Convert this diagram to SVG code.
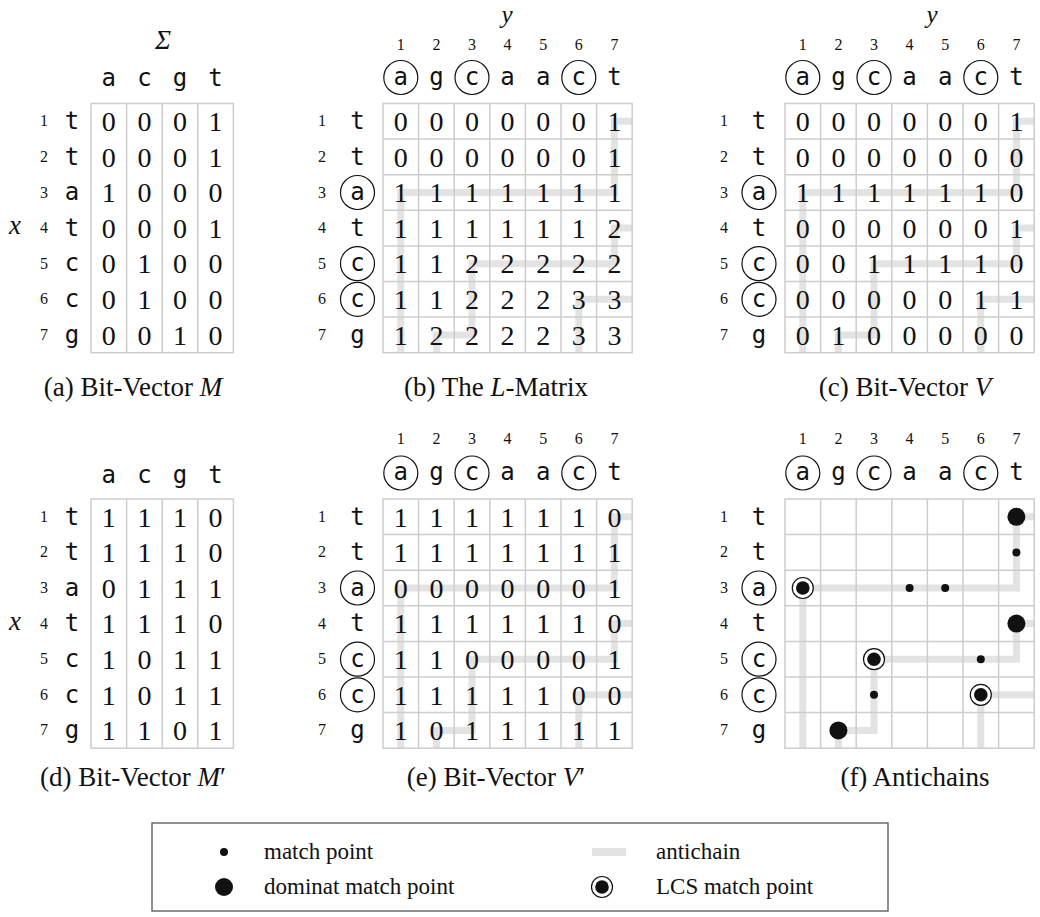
<svg xmlns="http://www.w3.org/2000/svg" width="1040" height="917" viewBox="0 0 1040 917">
<style>
.bg{fill:#ffffff}
.grid{stroke:#cdcdcd;stroke-width:1.5;fill:none}
.ac{stroke:#e3e3e3;stroke-width:7;fill:none;stroke-linejoin:miter;stroke-linecap:butt}
.n{font-family:"Liberation Serif",serif;font-size:28px;text-anchor:middle;fill:#111}
.idx{font-family:"Liberation Serif",serif;font-size:16px;text-anchor:middle;fill:#111}
.tt{font-family:"DejaVu Sans Mono",monospace;font-size:24px;text-anchor:middle;fill:#111}
.cap{font-family:"Liberation Serif",serif;font-size:27px;text-anchor:middle;fill:#111}
.lab{font-family:"Liberation Serif",serif;font-size:27px;font-style:italic;text-anchor:middle;fill:#111}
.ylab{font-family:"Liberation Serif",serif;font-size:25px;font-style:italic;text-anchor:middle;fill:#111}
.lt{font-family:"Liberation Serif",serif;font-size:23px;fill:#111}
.it{font-style:italic}
.ring{fill:none;stroke:#111;stroke-width:1.2}
.lring{fill:#fff;stroke:#111;stroke-width:1.2}
.dot{fill:#111}
</style>
<rect class="bg" x="0" y="0" width="1040" height="917"/>

<!-- connectors: antichains -->
<g id="connectors">
<path class="ac" d="M632.2,121.3 H614.4 V192.5 H400.8 V352.7"/>
<path class="ac" d="M632.2,228.1 H614.4 V263.7 H472 V334.9 H436.4 V352.7"/>
<path class="ac" d="M632.2,299.3 H578.8 V352.7"/>
<path class="ac" d="M1034.2,121.3 H1016.4 V192.5 H802.8 V352.7"/>
<path class="ac" d="M1034.2,228.1 H1016.4 V263.7 H874 V334.9 H838.4 V352.7"/>
<path class="ac" d="M1034.2,299.3 H980.8 V352.7"/>
<path class="ac" d="M632.2,516.8 H614.4 V588 H400.8 V748.2"/>
<path class="ac" d="M632.2,623.6 H614.4 V659.2 H472 V730.4 H436.4 V748.2"/>
<path class="ac" d="M632.2,694.8 H578.8 V748.2"/>
<path class="ac" d="M1034.2,516.8 H1016.4 V588 H802.8 V748.2"/>
<path class="ac" d="M1034.2,623.6 H1016.4 V659.2 H874 V730.4 H838.4 V748.2"/>
<path class="ac" d="M1034.2,694.8 H980.8 V748.2"/>
</g>

<!-- (a) Bit-Vector M -->
<g id="panel-a">
<rect class="grid" x="91" y="103.5" width="142.4" height="249.2"/>
<path class="grid" d="M126.6,103.5V352.7M162.2,103.5V352.7M197.8,103.5V352.7"/>
<text class="lab" x="163" y="49">Σ</text>
<text class="lab" x="15" y="234">x</text>
<g class="tt"><text x="108.8" y="86">a</text><text x="144.4" y="86">c</text><text x="180" y="86">g</text><text x="215.6" y="86">t</text>
<text x="72" y="129">t</text><text x="72" y="164.6">t</text><text x="72" y="200.2">a</text><text x="72" y="235.8">t</text><text x="72" y="271.4">c</text><text x="72" y="307">c</text><text x="72" y="342.6">g</text></g>
<g class="idx"><text x="44" y="126.3">1</text><text x="44" y="161.9">2</text><text x="44" y="197.5">3</text><text x="44" y="233.1">4</text><text x="44" y="268.7">5</text><text x="44" y="304.3">6</text><text x="44" y="339.9">7</text></g>
<g class="n">
<text x="108.8" y="131">0</text><text x="144.4" y="131">0</text><text x="180" y="131">0</text><text x="215.6" y="131">1</text>
<text x="108.8" y="166.6">0</text><text x="144.4" y="166.6">0</text><text x="180" y="166.6">0</text><text x="215.6" y="166.6">1</text>
<text x="108.8" y="202.2">1</text><text x="144.4" y="202.2">0</text><text x="180" y="202.2">0</text><text x="215.6" y="202.2">0</text>
<text x="108.8" y="237.8">0</text><text x="144.4" y="237.8">0</text><text x="180" y="237.8">0</text><text x="215.6" y="237.8">1</text>
<text x="108.8" y="273.4">0</text><text x="144.4" y="273.4">1</text><text x="180" y="273.4">0</text><text x="215.6" y="273.4">0</text>
<text x="108.8" y="309">0</text><text x="144.4" y="309">1</text><text x="180" y="309">0</text><text x="215.6" y="309">0</text>
<text x="108.8" y="344.6">0</text><text x="144.4" y="344.6">0</text><text x="180" y="344.6">1</text><text x="215.6" y="344.6">0</text>
</g>
<text class="cap" x="133" y="396">(a) Bit-Vector <tspan class="it">M</tspan></text>
</g>

<!-- (b) The L-Matrix -->
<g id="panel-b">
<rect class="grid" x="383" y="103.5" width="249.2" height="249.2"/>
<path class="grid" d="M418.6,103.5V352.7M454.2,103.5V352.7M489.8,103.5V352.7M525.4,103.5V352.7M561,103.5V352.7M596.6,103.5V352.7M383,139.1H632.2M383,174.7H632.2M383,210.3H632.2M383,245.9H632.2M383,281.5H632.2M383,317.1H632.2"/>
<text class="ylab" x="507" y="22.5">y</text>
<g class="idx"><text x="400.8" y="50">1</text><text x="436.4" y="50">2</text><text x="472" y="50">3</text><text x="507.6" y="50">4</text><text x="543.2" y="50">5</text><text x="578.8" y="50">6</text><text x="614.4" y="50">7</text>
<text x="322" y="126.3">1</text><text x="322" y="161.9">2</text><text x="322" y="197.5">3</text><text x="322" y="233.1">4</text><text x="322" y="268.7">5</text><text x="322" y="304.3">6</text><text x="322" y="339.9">7</text></g>
<g class="tt"><text x="400.8" y="84.5">a</text><text x="436.4" y="84.5">g</text><text x="472" y="84.5">c</text><text x="507.6" y="84.5">a</text><text x="543.2" y="84.5">a</text><text x="578.8" y="84.5">c</text><text x="614.4" y="84.5">t</text>
<text x="357.5" y="129">t</text><text x="357.5" y="164.6">t</text><text x="357.5" y="200.2">a</text><text x="357.5" y="235.8">t</text><text x="357.5" y="271.4">c</text><text x="357.5" y="307">c</text><text x="357.5" y="342.6">g</text></g>
<circle class="ring" cx="400.8" cy="77.5" r="17"/><circle class="ring" cx="472" cy="77.5" r="17"/><circle class="ring" cx="578.8" cy="77.5" r="17"/>
<circle class="ring" cx="357.5" cy="192.5" r="17"/><circle class="ring" cx="357.5" cy="263.7" r="17"/><circle class="ring" cx="357.5" cy="299.3" r="17"/>
<g class="n">
<text x="400.8" y="131">0</text><text x="436.4" y="131">0</text><text x="472" y="131">0</text><text x="507.6" y="131">0</text><text x="543.2" y="131">0</text><text x="578.8" y="131">0</text><text x="614.4" y="131">1</text>
<text x="400.8" y="166.6">0</text><text x="436.4" y="166.6">0</text><text x="472" y="166.6">0</text><text x="507.6" y="166.6">0</text><text x="543.2" y="166.6">0</text><text x="578.8" y="166.6">0</text><text x="614.4" y="166.6">1</text>
<text x="400.8" y="202.2">1</text><text x="436.4" y="202.2">1</text><text x="472" y="202.2">1</text><text x="507.6" y="202.2">1</text><text x="543.2" y="202.2">1</text><text x="578.8" y="202.2">1</text><text x="614.4" y="202.2">1</text>
<text x="400.8" y="237.8">1</text><text x="436.4" y="237.8">1</text><text x="472" y="237.8">1</text><text x="507.6" y="237.8">1</text><text x="543.2" y="237.8">1</text><text x="578.8" y="237.8">1</text><text x="614.4" y="237.8">2</text>
<text x="400.8" y="273.4">1</text><text x="436.4" y="273.4">1</text><text x="472" y="273.4">2</text><text x="507.6" y="273.4">2</text><text x="543.2" y="273.4">2</text><text x="578.8" y="273.4">2</text><text x="614.4" y="273.4">2</text>
<text x="400.8" y="309">1</text><text x="436.4" y="309">1</text><text x="472" y="309">2</text><text x="507.6" y="309">2</text><text x="543.2" y="309">2</text><text x="578.8" y="309">3</text><text x="614.4" y="309">3</text>
<text x="400.8" y="344.6">1</text><text x="436.4" y="344.6">2</text><text x="472" y="344.6">2</text><text x="507.6" y="344.6">2</text><text x="543.2" y="344.6">2</text><text x="578.8" y="344.6">3</text><text x="614.4" y="344.6">3</text>
</g>
<text class="cap" x="496" y="396">(b) The <tspan class="it">L</tspan>-Matrix</text>
</g>

<!-- (c) Bit-Vector V -->
<g id="panel-c">
<rect class="grid" x="785" y="103.5" width="249.2" height="249.2"/>
<path class="grid" d="M820.6,103.5V352.7M856.2,103.5V352.7M891.8,103.5V352.7M927.4,103.5V352.7M963,103.5V352.7M998.6,103.5V352.7M785,139.1H1034.2M785,174.7H1034.2M785,210.3H1034.2M785,245.9H1034.2M785,281.5H1034.2M785,317.1H1034.2"/>
<text class="ylab" x="932" y="22.5">y</text>
<g class="idx"><text x="802.8" y="50">1</text><text x="838.4" y="50">2</text><text x="874" y="50">3</text><text x="909.6" y="50">4</text><text x="945.2" y="50">5</text><text x="980.8" y="50">6</text><text x="1016.4" y="50">7</text>
<text x="724" y="126.3">1</text><text x="724" y="161.9">2</text><text x="724" y="197.5">3</text><text x="724" y="233.1">4</text><text x="724" y="268.7">5</text><text x="724" y="304.3">6</text><text x="724" y="339.9">7</text></g>
<g class="tt"><text x="802.8" y="84.5">a</text><text x="838.4" y="84.5">g</text><text x="874" y="84.5">c</text><text x="909.6" y="84.5">a</text><text x="945.2" y="84.5">a</text><text x="980.8" y="84.5">c</text><text x="1016.4" y="84.5">t</text>
<text x="759" y="129">t</text><text x="759" y="164.6">t</text><text x="759" y="200.2">a</text><text x="759" y="235.8">t</text><text x="759" y="271.4">c</text><text x="759" y="307">c</text><text x="759" y="342.6">g</text></g>
<circle class="ring" cx="802.8" cy="77.5" r="17"/><circle class="ring" cx="874" cy="77.5" r="17"/><circle class="ring" cx="980.8" cy="77.5" r="17"/>
<circle class="ring" cx="759" cy="192.5" r="17"/><circle class="ring" cx="759" cy="263.7" r="17"/><circle class="ring" cx="759" cy="299.3" r="17"/>
<g class="n">
<text x="802.8" y="131">0</text><text x="838.4" y="131">0</text><text x="874" y="131">0</text><text x="909.6" y="131">0</text><text x="945.2" y="131">0</text><text x="980.8" y="131">0</text><text x="1016.4" y="131">1</text>
<text x="802.8" y="166.6">0</text><text x="838.4" y="166.6">0</text><text x="874" y="166.6">0</text><text x="909.6" y="166.6">0</text><text x="945.2" y="166.6">0</text><text x="980.8" y="166.6">0</text><text x="1016.4" y="166.6">0</text>
<text x="802.8" y="202.2">1</text><text x="838.4" y="202.2">1</text><text x="874" y="202.2">1</text><text x="909.6" y="202.2">1</text><text x="945.2" y="202.2">1</text><text x="980.8" y="202.2">1</text><text x="1016.4" y="202.2">0</text>
<text x="802.8" y="237.8">0</text><text x="838.4" y="237.8">0</text><text x="874" y="237.8">0</text><text x="909.6" y="237.8">0</text><text x="945.2" y="237.8">0</text><text x="980.8" y="237.8">0</text><text x="1016.4" y="237.8">1</text>
<text x="802.8" y="273.4">0</text><text x="838.4" y="273.4">0</text><text x="874" y="273.4">1</text><text x="909.6" y="273.4">1</text><text x="945.2" y="273.4">1</text><text x="980.8" y="273.4">1</text><text x="1016.4" y="273.4">0</text>
<text x="802.8" y="309">0</text><text x="838.4" y="309">0</text><text x="874" y="309">0</text><text x="909.6" y="309">0</text><text x="945.2" y="309">0</text><text x="980.8" y="309">1</text><text x="1016.4" y="309">1</text>
<text x="802.8" y="344.6">0</text><text x="838.4" y="344.6">1</text><text x="874" y="344.6">0</text><text x="909.6" y="344.6">0</text><text x="945.2" y="344.6">0</text><text x="980.8" y="344.6">0</text><text x="1016.4" y="344.6">0</text>
</g>
<text class="cap" x="905" y="396">(c) Bit-Vector <tspan class="it">V</tspan></text>
</g>

<!-- (d) Bit-Vector M' -->
<g id="panel-d">
<rect class="grid" x="91" y="499" width="142.4" height="249.2"/>
<path class="grid" d="M126.6,499V748.2M162.2,499V748.2M197.8,499V748.2"/>
<text class="lab" x="15" y="630">x</text>
<g class="tt"><text x="108.8" y="483">a</text><text x="144.4" y="483">c</text><text x="180" y="483">g</text><text x="215.6" y="483">t</text>
<text x="72" y="524.5">t</text><text x="72" y="560.1">t</text><text x="72" y="595.7">a</text><text x="72" y="631.3">t</text><text x="72" y="666.9">c</text><text x="72" y="702.5">c</text><text x="72" y="738.1">g</text></g>
<g class="idx"><text x="44" y="521.8">1</text><text x="44" y="557.4">2</text><text x="44" y="593">3</text><text x="44" y="628.6">4</text><text x="44" y="664.2">5</text><text x="44" y="699.8">6</text><text x="44" y="735.4">7</text></g>
<g class="n">
<text x="108.8" y="526.5">1</text><text x="144.4" y="526.5">1</text><text x="180" y="526.5">1</text><text x="215.6" y="526.5">0</text>
<text x="108.8" y="562.1">1</text><text x="144.4" y="562.1">1</text><text x="180" y="562.1">1</text><text x="215.6" y="562.1">0</text>
<text x="108.8" y="597.7">0</text><text x="144.4" y="597.7">1</text><text x="180" y="597.7">1</text><text x="215.6" y="597.7">1</text>
<text x="108.8" y="633.3">1</text><text x="144.4" y="633.3">1</text><text x="180" y="633.3">1</text><text x="215.6" y="633.3">0</text>
<text x="108.8" y="668.9">1</text><text x="144.4" y="668.9">0</text><text x="180" y="668.9">1</text><text x="215.6" y="668.9">1</text>
<text x="108.8" y="704.5">1</text><text x="144.4" y="704.5">0</text><text x="180" y="704.5">1</text><text x="215.6" y="704.5">1</text>
<text x="108.8" y="740.1">1</text><text x="144.4" y="740.1">1</text><text x="180" y="740.1">0</text><text x="215.6" y="740.1">1</text>
</g>
<text class="cap" x="133" y="786">(d) Bit-Vector <tspan class="it">M</tspan>′</text>
</g>

<!-- (e) Bit-Vector V' -->
<g id="panel-e">
<rect class="grid" x="383" y="499" width="249.2" height="249.2"/>
<path class="grid" d="M418.6,499V748.2M454.2,499V748.2M489.8,499V748.2M525.4,499V748.2M561,499V748.2M596.6,499V748.2M383,534.6H632.2M383,570.2H632.2M383,605.8H632.2M383,641.4H632.2M383,677H632.2M383,712.6H632.2"/>
<g class="idx"><text x="400.8" y="444">1</text><text x="436.4" y="444">2</text><text x="472" y="444">3</text><text x="507.6" y="444">4</text><text x="543.2" y="444">5</text><text x="578.8" y="444">6</text><text x="614.4" y="444">7</text>
<text x="322" y="521.8">1</text><text x="322" y="557.4">2</text><text x="322" y="593">3</text><text x="322" y="628.6">4</text><text x="322" y="664.2">5</text><text x="322" y="699.8">6</text><text x="322" y="735.4">7</text></g>
<g class="tt"><text x="400.8" y="480">a</text><text x="436.4" y="480">g</text><text x="472" y="480">c</text><text x="507.6" y="480">a</text><text x="543.2" y="480">a</text><text x="578.8" y="480">c</text><text x="614.4" y="480">t</text>
<text x="357.5" y="524.5">t</text><text x="357.5" y="560.1">t</text><text x="357.5" y="595.7">a</text><text x="357.5" y="631.3">t</text><text x="357.5" y="666.9">c</text><text x="357.5" y="702.5">c</text><text x="357.5" y="738.1">g</text></g>
<circle class="ring" cx="400.8" cy="473" r="17"/><circle class="ring" cx="472" cy="473" r="17"/><circle class="ring" cx="578.8" cy="473" r="17"/>
<circle class="ring" cx="357.5" cy="588" r="17"/><circle class="ring" cx="357.5" cy="659.2" r="17"/><circle class="ring" cx="357.5" cy="694.8" r="17"/>
<g class="n">
<text x="400.8" y="526.5">1</text><text x="436.4" y="526.5">1</text><text x="472" y="526.5">1</text><text x="507.6" y="526.5">1</text><text x="543.2" y="526.5">1</text><text x="578.8" y="526.5">1</text><text x="614.4" y="526.5">0</text>
<text x="400.8" y="562.1">1</text><text x="436.4" y="562.1">1</text><text x="472" y="562.1">1</text><text x="507.6" y="562.1">1</text><text x="543.2" y="562.1">1</text><text x="578.8" y="562.1">1</text><text x="614.4" y="562.1">1</text>
<text x="400.8" y="597.7">0</text><text x="436.4" y="597.7">0</text><text x="472" y="597.7">0</text><text x="507.6" y="597.7">0</text><text x="543.2" y="597.7">0</text><text x="578.8" y="597.7">0</text><text x="614.4" y="597.7">1</text>
<text x="400.8" y="633.3">1</text><text x="436.4" y="633.3">1</text><text x="472" y="633.3">1</text><text x="507.6" y="633.3">1</text><text x="543.2" y="633.3">1</text><text x="578.8" y="633.3">1</text><text x="614.4" y="633.3">0</text>
<text x="400.8" y="668.9">1</text><text x="436.4" y="668.9">1</text><text x="472" y="668.9">0</text><text x="507.6" y="668.9">0</text><text x="543.2" y="668.9">0</text><text x="578.8" y="668.9">0</text><text x="614.4" y="668.9">1</text>
<text x="400.8" y="704.5">1</text><text x="436.4" y="704.5">1</text><text x="472" y="704.5">1</text><text x="507.6" y="704.5">1</text><text x="543.2" y="704.5">1</text><text x="578.8" y="704.5">0</text><text x="614.4" y="704.5">0</text>
<text x="400.8" y="740.1">1</text><text x="436.4" y="740.1">0</text><text x="472" y="740.1">1</text><text x="507.6" y="740.1">1</text><text x="543.2" y="740.1">1</text><text x="578.8" y="740.1">1</text><text x="614.4" y="740.1">1</text>
</g>
<text class="cap" x="496" y="786">(e) Bit-Vector <tspan class="it">V</tspan>′</text>
</g>

<!-- (f) Antichains -->
<g id="panel-f">
<rect class="grid" x="785" y="499" width="249.2" height="249.2"/>
<path class="grid" d="M820.6,499V748.2M856.2,499V748.2M891.8,499V748.2M927.4,499V748.2M963,499V748.2M998.6,499V748.2M785,534.6H1034.2M785,570.2H1034.2M785,605.8H1034.2M785,641.4H1034.2M785,677H1034.2M785,712.6H1034.2"/>
<g class="idx"><text x="802.8" y="444">1</text><text x="838.4" y="444">2</text><text x="874" y="444">3</text><text x="909.6" y="444">4</text><text x="945.2" y="444">5</text><text x="980.8" y="444">6</text><text x="1016.4" y="444">7</text>
<text x="724" y="521.8">1</text><text x="724" y="557.4">2</text><text x="724" y="593">3</text><text x="724" y="628.6">4</text><text x="724" y="664.2">5</text><text x="724" y="699.8">6</text><text x="724" y="735.4">7</text></g>
<g class="tt"><text x="802.8" y="480">a</text><text x="838.4" y="480">g</text><text x="874" y="480">c</text><text x="909.6" y="480">a</text><text x="945.2" y="480">a</text><text x="980.8" y="480">c</text><text x="1016.4" y="480">t</text>
<text x="759" y="524.5">t</text><text x="759" y="560.1">t</text><text x="759" y="595.7">a</text><text x="759" y="631.3">t</text><text x="759" y="666.9">c</text><text x="759" y="702.5">c</text><text x="759" y="738.1">g</text></g>
<circle class="ring" cx="802.8" cy="473" r="17"/><circle class="ring" cx="874" cy="473" r="17"/><circle class="ring" cx="980.8" cy="473" r="17"/>
<circle class="ring" cx="759" cy="588" r="17"/><circle class="ring" cx="759" cy="659.2" r="17"/><circle class="ring" cx="759" cy="694.8" r="17"/>
<g class="dot">
<circle cx="1016.4" cy="516.8" r="9"/><circle cx="1016.4" cy="623.6" r="9"/><circle cx="838.4" cy="730.4" r="9"/>
<circle cx="1016.4" cy="552.4" r="4"/><circle cx="909.6" cy="588" r="4"/><circle cx="945.2" cy="588" r="4"/><circle cx="980.8" cy="659.2" r="4"/><circle cx="874" cy="694.8" r="4"/>
</g>
<circle class="lring" cx="802.8" cy="588" r="10.5"/><circle class="dot" cx="802.8" cy="588" r="6.8"/>
<circle class="lring" cx="874" cy="659.2" r="10.5"/><circle class="dot" cx="874" cy="659.2" r="6.8"/>
<circle class="lring" cx="980.8" cy="694.8" r="10.5"/><circle class="dot" cx="980.8" cy="694.8" r="6.8"/>
<text class="cap" x="915" y="786">(f) Antichains</text>
</g>

<!-- legend -->
<g id="legend">
<rect x="152" y="823" width="736" height="88" fill="#fff" stroke="#555" stroke-width="1.3"/>
<circle class="dot" cx="224" cy="852" r="4"/>
<text class="lt" x="264" y="859">match point</text>
<circle class="dot" cx="224" cy="887" r="9"/>
<text class="lt" x="264" y="894">dominat match point</text>
<rect x="592" y="848" width="34" height="8" fill="#e3e3e3"/>
<text class="lt" x="656" y="859">antichain</text>
<circle class="lring" cx="602" cy="887" r="10.5"/><circle class="dot" cx="602" cy="887" r="6.8"/>
<text class="lt" x="656" y="894">LCS match point</text>
</g>
</svg>
